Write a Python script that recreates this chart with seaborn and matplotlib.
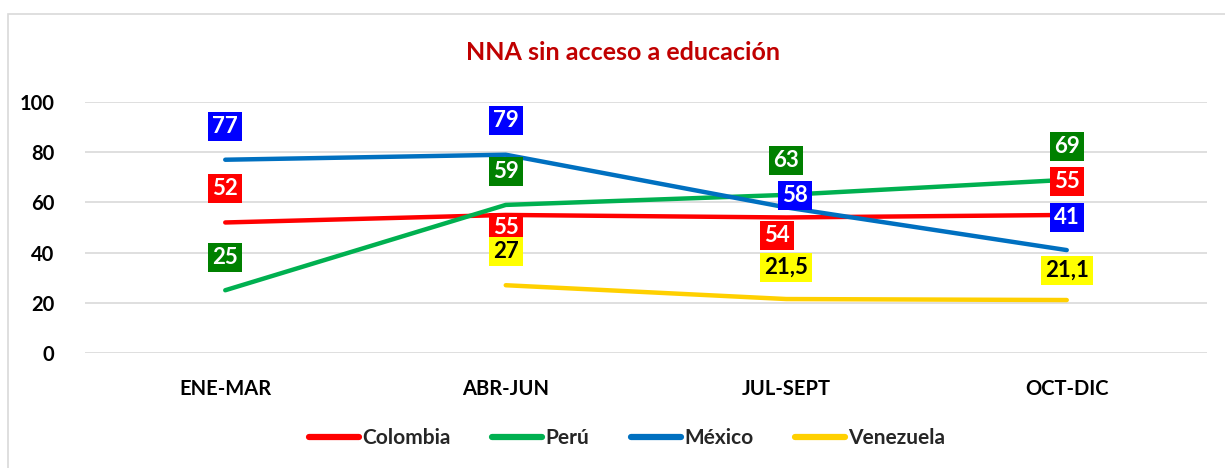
import numpy as np
import pandas as pd
import seaborn as sns
import matplotlib.pyplot as plt
from matplotlib.patches import Rectangle

# Data
PERIODS = ["ENE-MAR", "ABR-JUN", "JUL-SEPT", "OCT-DIC"]
COUNTRIES = ["Colombia", "Perú", "México", "Venezuela"]

colombia = [52, 55, 54, 55]
peru = [25, 59, 63, 69]
mexico = [77, 79, 58, 41]
venezuela = [np.nan, 27, 21.5, 21.1]

# data labels as printed on the chart
labels_colombia = ["52", "55", "54", "55"]
labels_peru = ["25", "59", "63", "69"]
labels_mexico = ["77", "79", "58", "41"]
labels_venezuela = ["", "27", "21,5", "21,1"]

LINE_COLORS = {"Colombia": "#FF0000", "Perú": "#00B050", "México": "#0070C0", "Venezuela": "#FFD000"}
BOX_COLORS = {"Colombia": "#FF0000", "Perú": "#008000", "México": "#0000FF", "Venezuela": "#FFFF00"}
TEXT_COLORS = {"Colombia": "white", "Perú": "white", "México": "white", "Venezuela": "black"}

# label offsets in pixels (dx, dy) from each point
OFFSETS = {
    "Colombia": [(0, 34), (0, -13), (-9, -18), (0, 33)],
    "Perú": [(0, 33), (0, 33), (0, 34), (0, 33)],
    "México": [(0, 33), (0, 34), (9, 12), (0, 33)],
    "Venezuela": [(0, 0), (0, 34), (0, 32), (0, 30)],
}

values = {"Colombia": colombia, "Perú": peru, "México": mexico, "Venezuela": venezuela}
labels = {"Colombia": labels_colombia, "Perú": labels_peru, "México": labels_mexico, "Venezuela": labels_venezuela}

df = pd.DataFrame([
    {"periodo": p, "pais": c, "valor": v}
    for c in COUNTRIES for p, v in zip(PERIODS, values[c])
])

sns.set_theme(style="white")
plt.rcParams['font.family'] = ['Lato', 'DejaVu Sans']

fig = plt.figure(figsize=(12.25, 4.68), dpi=100)
ax = fig.add_axes([85 / 1225, 115 / 468, 1122 / 1225, 251 / 468])

sns.lineplot(
    data=df.dropna(), x="periodo", y="valor", hue="pais", hue_order=COUNTRIES,
    palette=LINE_COLORS, linewidth=3.2, sort=False, ax=ax, legend=True,
)
for line in ax.get_lines():
    line.set_solid_capstyle("round")

ax.set_xlim(-0.5, 3.5)
ax.set_ylim(0, 100)
ax.set_yticks(range(0, 101, 20))
ax.yaxis.grid(True, color="#D9D9D9", linewidth=1.2)
ax.set_axisbelow(True)
for s in ax.spines.values():
    s.set_visible(False)
ax.set_xlabel("")
ax.set_ylabel("")
ax.tick_params(axis="y", labelsize=14.5, pad=22, length=0)
ax.tick_params(axis="x", labelsize=14.5, pad=19, length=0)
for t in ax.get_xticklabels() + ax.get_yticklabels():
    t.set_fontweight("bold")
    t.set_color("black")

# data labels
px = 0.72  # points per pixel at dpi 100
for c in COUNTRIES:
    for i, (v, lab) in enumerate(zip(values[c], labels[c])):
        if lab == "":
            continue
        dx, dy = OFFSETS[c][i]
        ax.annotate(
            lab, xy=(i, v), xytext=(dx * px, dy * px), textcoords="offset points",
            ha="center", va="center", fontsize=16, fontweight="bold",
            color=TEXT_COLORS[c], zorder=5,
            bbox=dict(boxstyle="square,pad=0.18", fc=BOX_COLORS[c], ec="none"),
        )

# legend at bottom
handles, leg_labels = ax.get_legend_handles_labels()
ax.get_legend().remove()
leg = fig.legend(
    handles, leg_labels, loc="center", bbox_to_anchor=(627 / 1225, 1 - 438 / 468),
    ncol=4, frameon=False, fontsize=15, handlelength=2.4, handletextpad=0.15,
    columnspacing=2.0,
)
for t in leg.get_texts():
    t.set_fontweight("bold")
for h in leg.get_lines():
    h.set_linewidth(4.5)
    h.set_solid_capstyle("round")

fig.text(623 / 1225, 1 - 52 / 468, "NNA sin acceso a educación", ha="center", va="center",
         fontsize=18, fontweight="bold", color="#C00000")

# outer chart border
fig.patches.append(Rectangle((8 / 1225, -0.01), 1.2, 1 - 14 / 468 + 0.01, transform=fig.transFigure,
                             fill=False, ec="#D9D9D9", lw=1.2))

fig.savefig("out.png", dpi=100)
